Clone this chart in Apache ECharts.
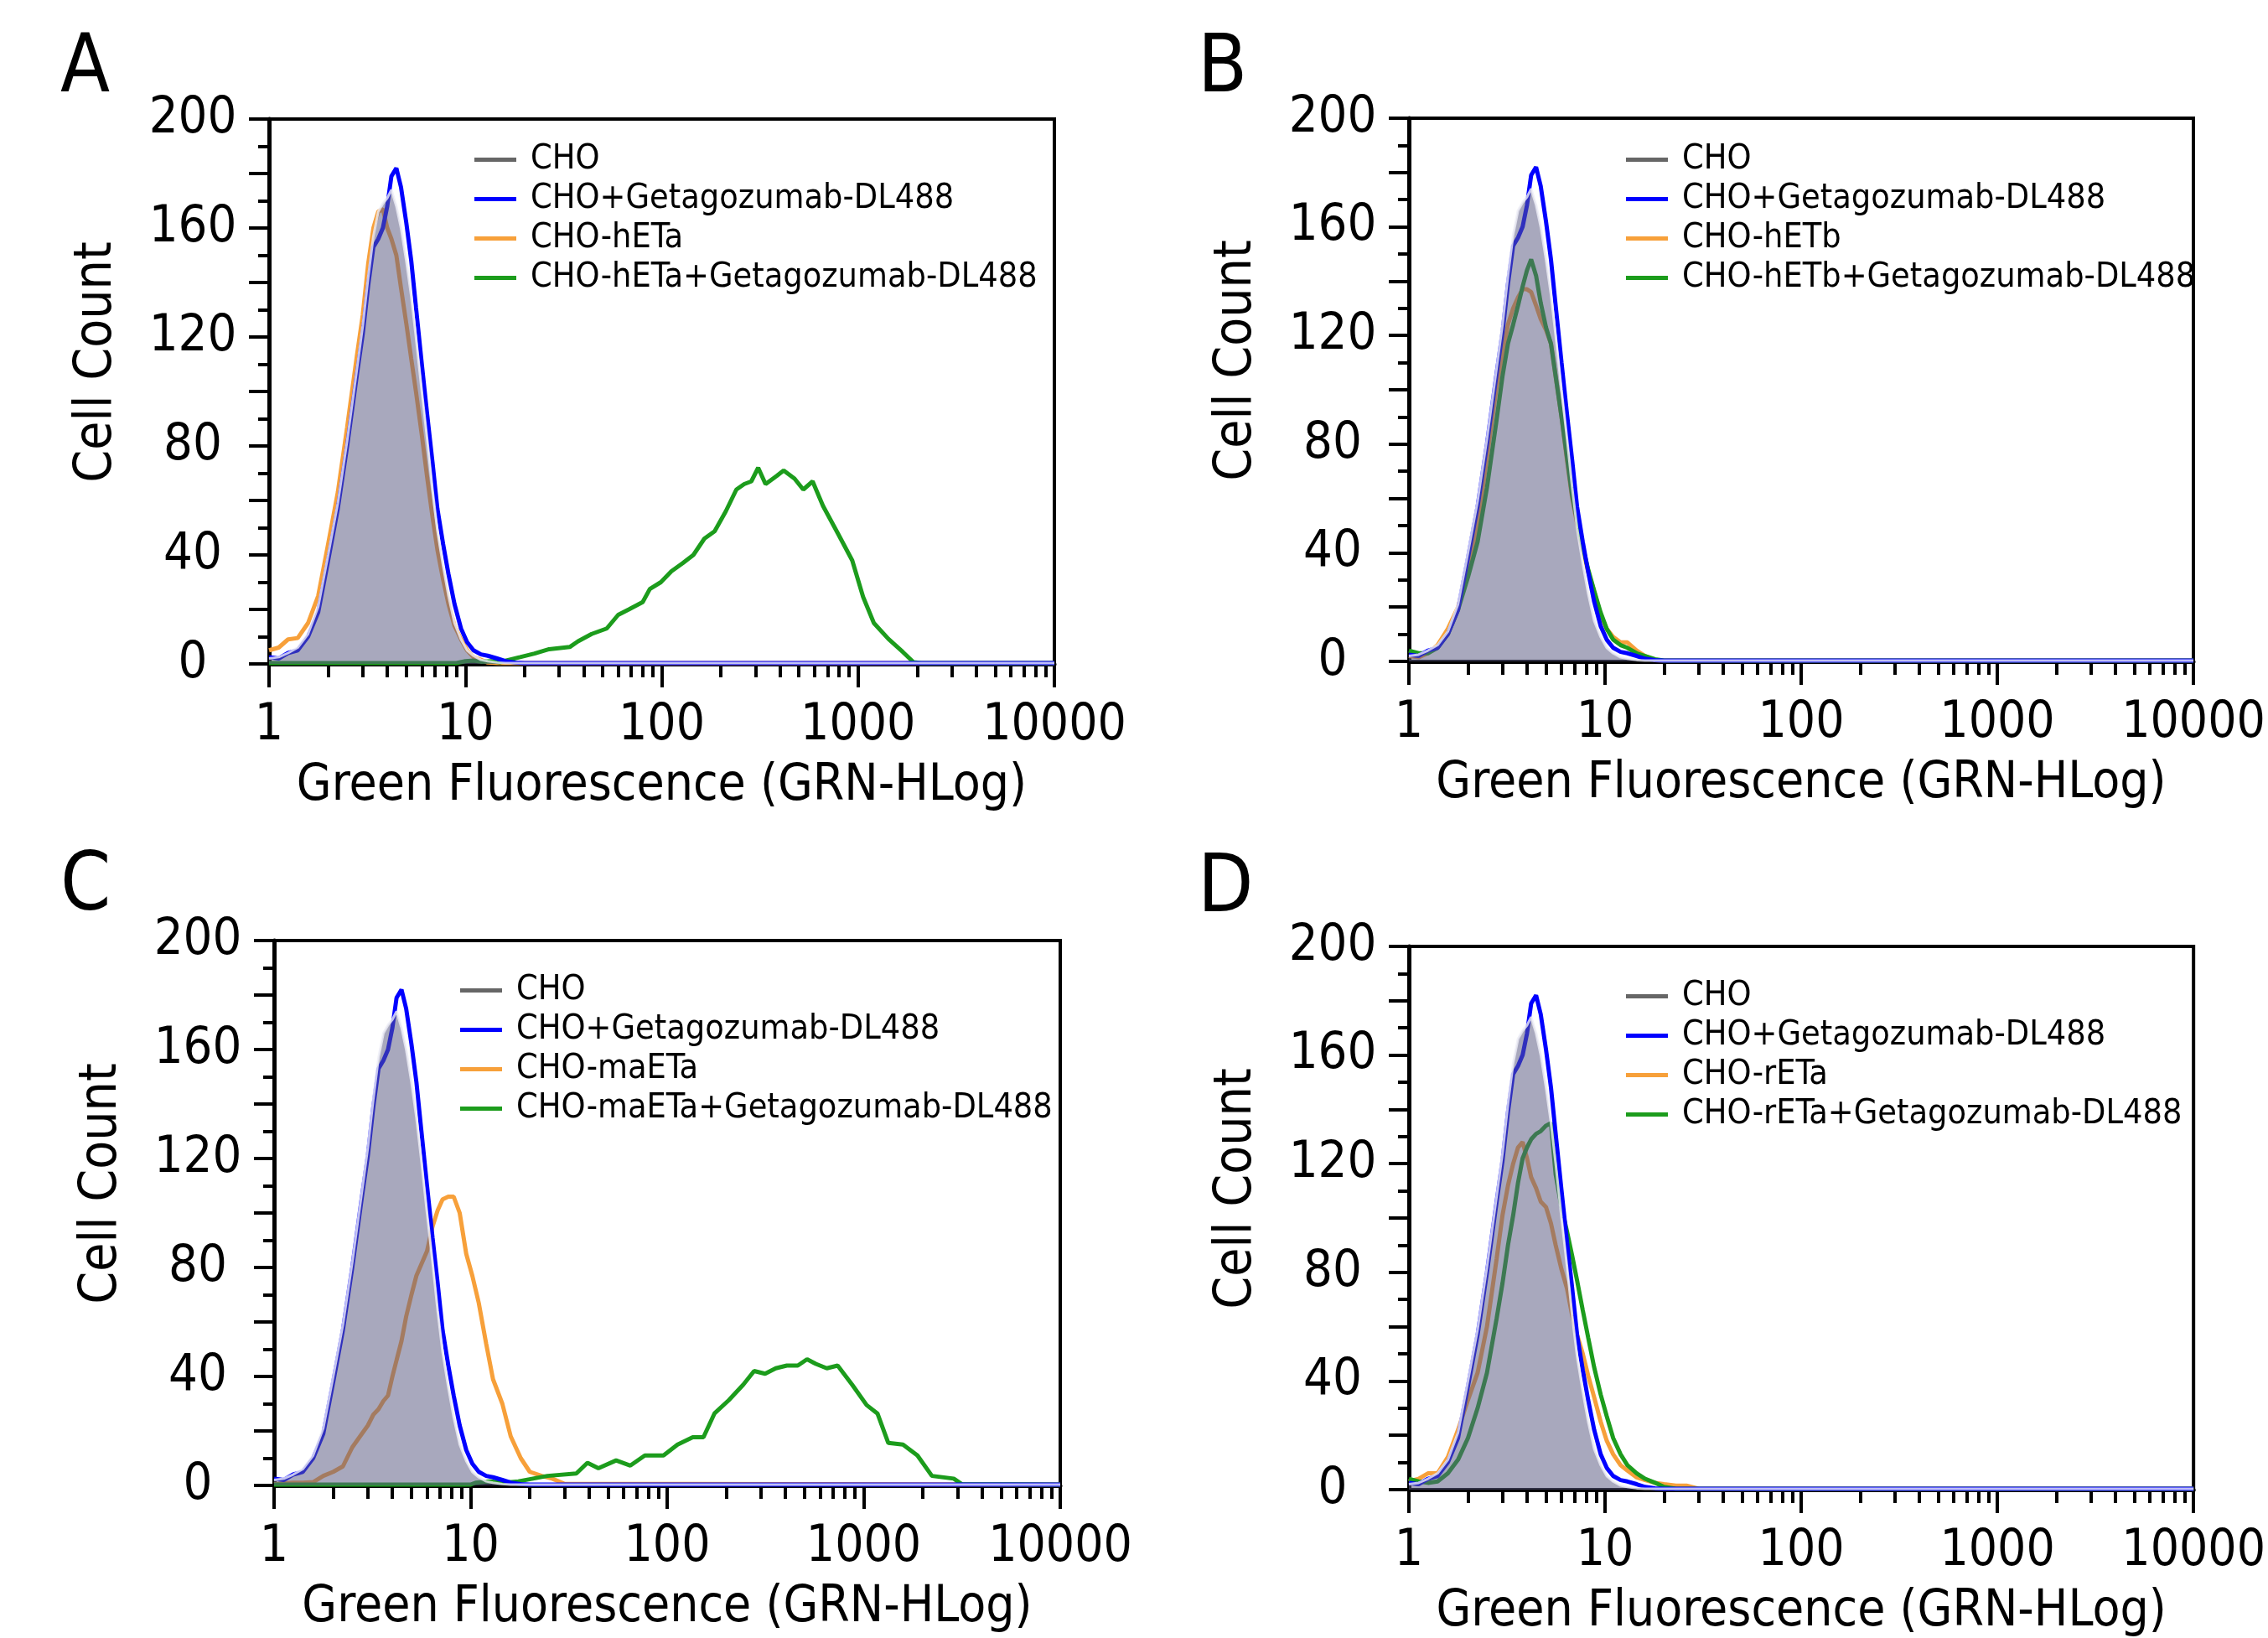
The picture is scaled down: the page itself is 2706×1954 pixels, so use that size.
<!DOCTYPE html>
<html><head><meta charset="utf-8">
<script src="https://cdn.jsdelivr.net/npm/echarts@6/dist/echarts.min.js"></script>
<style>html,body{margin:0;padding:0;background:#fff}#c{width:2706px;height:1954px}</style>
</head><body><div id="c"></div>
<script>
// ---------- DATA ----------
const xTickDecades = [1, 10, 100, 1000, 10000];
const xTickMinor = [2,3,4,5,6,7,8,9,20,30,40,50,60,70,80,90,200,300,400,500,600,700,800,900,2000,3000,4000,5000,6000,7000,8000,9000];
const yTickLabels = [0, 40, 80, 120, 160, 200];

// fluorescence bins (GRN-HLog) for the main peak region
const xCore = [1.0,1.12,1.25,1.4,1.58,1.78,2.0,2.24,2.5,2.8,3.0,3.2,3.4,3.6,3.8,4.0,4.2,4.45,4.7,5.0,5.3,5.6,6.0,6.4,6.8,7.2,7.7,8.2,8.8,9.5,10.2,11,12,13,14.5,16,18,20,23,26,30,10000];

// CHO (shared control, grey filled)
const choCount  = [2,2.5,4,6,11,21,40,59,82,108,124,142,157,166,169,171,174,168,160,148,135,120,100,82,64,49,36,25,15,9,5,3,1.5,1,0.5,0.3,0.3,0.3,0.3,0.3,0.3,0.3];
// CHO+Getagozumab-DL488 (shared, blue)
const blueCount = [2.5,2,4,5,10,19,38,57,80,106,121,139,153,156,160,168,179,182,175,162,148,131,110,91,74,57,44,33,22,13,8,5,3.5,3,2,1,0.5,0.3,0.3,0.3,0.3,0.3];

// Panel A
const orangeA = [5,6,9,9.5,15,25,44,63,87,113,128,147,160,166,167,160,156,150,138,125,112,100,84,68,54,42,31,22,14,9,5,2.5,1.5,0.5,0.3,0.3,0.3,0.3,0.3,0.3,0.3,0.3];
const xGreenA = [1,9,10,11,12,13.5,15,16,19,22.5,26.7,34,37.5,44,52.5,60,68,80,87,99,112,128,145,165,186,212,240,263,286,310,338,385,418,475,526,587,663,788,934,1061,1204,1427,1690,1918,2100,10000];
const yGreenA = [0.3,0.3,1,1.2,0.8,1,0.6,1.2,2.5,3.8,5.4,6.2,8.3,11,13,18,20,22.7,27.5,30,34,37,40,46,48.7,56,64,66,67,72,66,69,71,68,64,67,58,48,38,24.6,15,9.2,4.4,0.6,0.3,0.3];

// Panel B
const orangeB = [2,1.5,3,6,12,20,33,50,75,101,113,124,130,134,137,137,136,131,126,122,117,105,90,74,60,51,41,33,26,17,12,9,7,7,4,2,0.5,0.3,0.3,0.3,0.3,0.3];
const greenB  = [4,3,3,5,10,19,31,44,64,89,105,117,124,131,138,144,148,142,132,123,117,105,90,75,61,52,42,34,26,18,12,8,6,5,3,2,0.8,0.3,0.3,0.3,0.3,0.3];

// Panel C
const orangeC = [0.5,0.8,1,1,1.2,3.5,5,7,14,19,22,26,28,31,33,40,46,53,62,70,77,81,86,95,101,105,106,106,100,85,77,67,52,39,30,18,10,5,3.5,2.5,0.6,0.3];
const xGreenC = [1,10,10.6,12.5,14.8,17.5,24.6,34.5,39.3,44.7,55,65,77,95.8,113,135,153,174,206,244,277,315,357,406,462,515,571,649,737,873,1035,1175,1334,1584,1877,2224,2870,3150,10000];
const yGreenC = [0.3,0.3,1,1.5,1,1.5,3.5,4.4,8.3,6.3,9.2,7.3,11,11,15,17.7,17.7,26.4,31.3,37,42,41,43,44,44,46.3,44.6,43,44,37,29.5,26.4,15.6,15,11,3.5,2.5,0.5,0.3];

// Panel D
const orangeD = [3,4,6,6,12,22,33,43,60,85,101,112,120,126,128,122,115,111,106,104,98,90,81,74,64,57,50,42,34,25,18,13,9,7,4.5,3.5,2.5,2,1.5,1.5,0.3,0.3];
const greenD  = [4,3,2.5,3,6,11,19,30,43,63,76,90,101,113,122,126,129,131,132,134,135,116,104,95,86,77,66,56,45,35,27,19,13,9,6,4,2.5,1,0.3,0.3,0.3,0.3];

const panelLetters = ['A','B','C','D'];
const probeNames = ['hETa','hETb','maETa','rETa'];

// ---------- STYLE / LAYOUT ----------
const FONT = "'Liberation Sans Narrow','Arial Narrow','DejaVu Sans Condensed',sans-serif";
const COL = {cho:'#666666', blue:'#0000ff', orange:'#f7a03a', green:'#1c9c1c'};
const layout = [
  {grid:{left:321,top:142,width:937,height:650}, legend:{left:566,top:167}, letter:{left:72,top:36}},
  {grid:{left:1681,top:141,width:936,height:648}, legend:{left:1940,top:167}, letter:{left:1429,top:36}},
  {grid:{left:327,top:1122,width:938,height:650}, legend:{left:549,top:1158}, letter:{left:72,top:1012}},
  {grid:{left:1681,top:1129,width:937,height:648}, legend:{left:1940,top:1165}, letter:{left:1429,top:1014}}
];
const panelData = [
  {orange:[xCore, orangeA], green:[xGreenA, yGreenA]},
  {orange:[xCore, orangeB], green:[xCore, greenB]},
  {orange:[xCore, orangeC], green:[xGreenC, yGreenC]},
  {orange:[xCore, orangeD], green:[xCore, greenD]}
];
const zip = (xs, ys) => xs.map((x, i) => [x, ys[i]]);

const grid = [], xAxis = [], yAxis = [], series = [], legend = [], title = [];
layout.forEach((L, i) => {
  const probe = probeNames[i];
  const names = ['CHO', 'CHO+Getagozumab-DL488', 'CHO-' + probe, 'CHO-' + probe + '+Getagozumab-DL488'];
  grid.push(Object.assign({show:true, borderColor:'#000', borderWidth:4, backgroundColor:'transparent'}, L.grid));
  xAxis.push({
    type:'log', logBase:10, gridIndex:i, min:1, max:10000, position:'bottom',
    axisLine:{show:true, onZero:false, lineStyle:{color:'#000', width:5}},
    axisTick:{show:true, length:28, customValues:xTickDecades, lineStyle:{color:'#000', width:4}},
    axisLabel:{show:true, customValues:xTickDecades, fontSize:60, fontFamily:FONT, color:'#000', margin:44,
               formatter:v => String(Math.round(v))},
    splitLine:{show:false}, minorTick:{show:false},
    name:'Green Fluorescence (GRN-HLog)', nameLocation:'middle', nameGap:116,
    nameTextStyle:{fontSize:60, fontFamily:FONT, color:'#000'}
  });
  xAxis.push({
    type:'log', logBase:10, gridIndex:i, min:1, max:10000, position:'bottom',
    axisLine:{show:false},
    axisTick:{show:true, length:16, customValues:xTickMinor, lineStyle:{color:'#000', width:4}},
    axisLabel:{show:false}, splitLine:{show:false}
  });
  yAxis.push({
    type:'value', gridIndex:i, min:0, max:200, interval:20,
    axisLine:{show:true, onZero:false, lineStyle:{color:'#000', width:5}},
    axisTick:{show:true, length:24, lineStyle:{color:'#000', width:4}},
    minorTick:{show:true, splitNumber:2, length:13, lineStyle:{color:'#000', width:4}},
    axisLabel:{fontSize:61, fontFamily:FONT, color:'#000', margin:91, align:'center',
               formatter:v => yTickLabels.indexOf(v) >= 0 ? String(v) : ''},
    splitLine:{show:false}, minorSplitLine:{show:false},
    name:'Cell Count', nameLocation:'middle', nameGap:174, nameRotate:90,
    nameTextStyle:{fontSize:62, fontFamily:FONT, color:'#000', padding:[0,0,0,70]}
  });
  const d = panelData[i];
  const base = {type:'line', xAxisIndex:2*i, yAxisIndex:i, symbol:'none', showSymbol:false, smooth:false, animation:false, silent:true};
  series.push(Object.assign({}, base, {name:names[2], data:zip(d.orange[0], d.orange[1]),
    itemStyle:{color:COL.orange}, lineStyle:{color:COL.orange, width:5}, z:2}));
  series.push(Object.assign({}, base, {name:names[3], data:zip(d.green[0], d.green[1]),
    itemStyle:{color:COL.green}, lineStyle:{color:COL.green, width:5}, z:3}));
  series.push(Object.assign({}, base, {name:names[1], data:zip(xCore, blueCount),
    itemStyle:{color:COL.blue}, lineStyle:{color:COL.blue, width:5}, z:4}));
  series.push(Object.assign({}, base, {name:names[0], data:zip(xCore, choCount),
    itemStyle:{color:COL.cho}, lineStyle:{color:'rgba(238,238,246,0.8)', width:3},
    areaStyle:{color:'rgba(90,90,130,0.53)', opacity:1}, z:5}));
  legend.push({
    orient:'vertical', left:L.legend.left, top:L.legend.top, icon:'rect', itemWidth:50, itemHeight:5,
    itemGap:0, selectedMode:false, padding:0,
    textStyle:{fontSize:41, fontFamily:FONT, color:'#000', lineHeight:47, padding:[0,0,0,12]},
    data:[{name:names[0], itemStyle:{color:COL.cho}}, {name:names[1], itemStyle:{color:COL.blue}},
          {name:names[2], itemStyle:{color:COL.orange}}, {name:names[3], itemStyle:{color:COL.green}}]
  });
  title.push({text:panelLetters[i], left:L.letter.left, top:L.letter.top, padding:0,
    textStyle:{fontSize:96, fontWeight:'normal', fontFamily:FONT, color:'#000'}});
});

const chart = echarts.init(document.getElementById('c'), null, {renderer:'canvas'});
chart.setOption({backgroundColor:'#fff', animation:false, title, grid, xAxis, yAxis, legend, series});
</script></body></html>
